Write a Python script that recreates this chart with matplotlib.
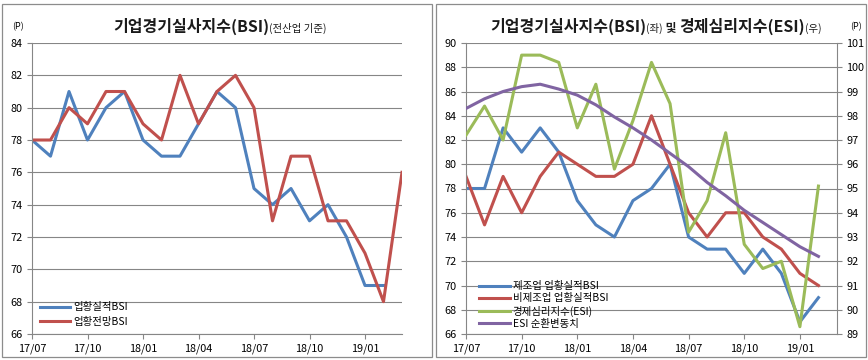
import matplotlib
matplotlib.use('Agg')
import matplotlib.pyplot as plt
import numpy as np
from matplotlib.patches import Rectangle

plt.rcParams['font.family'] = ['Noto Sans CJK KR', 'DejaVu Sans']

# ---------------- data ----------------
months = ['17/07', '17/08', '17/09', '17/10', '17/11', '17/12',
          '18/01', '18/02', '18/03', '18/04', '18/05', '18/06',
          '18/07', '18/08', '18/09', '18/10', '18/11', '18/12',
          '19/01', '19/02', '19/03']

# left chart: 전산업 BSI
bsi_actual = [78, 77, 81, 78, 80, 81, 78, 77, 77, 79, 81, 80,
              75, 74, 75, 73, 74, 72, 69, 69, np.nan]
bsi_outlook = [78, 78, 80, 79, 81, 81, 79, 78, 82, 79, 81, 82,
               80, 73, 77, 77, 73, 73, 71, 68, 76]

# right chart
mfg_bsi = [78, 78, 83, 81, 83, 81, 77, 75, 74, 77, 78, 80,
           74, 73, 73, 71, 73, 71, 67, 69]
nonmfg_bsi = [79, 75, 79, 76, 79, 81, 80, 79, 79, 80, 84, 80,
              76, 74, 76, 76, 74, 73, 71, 70]
esi = [97.2, 98.4, 97.0, 100.5, 100.5, 100.2, 97.5, 99.3, 95.8, 97.8, 100.2, 98.5,
       93.2, 94.5, 97.3, 92.7, 91.7, 92.0, 89.3, 95.1]
esi_cycle = [98.3, 98.7, 99.0, 99.2, 99.3, 99.1, 98.85, 98.45, 97.95, 97.5, 97.0, 96.45,
             95.9, 95.25, 94.7, 94.1, 93.6, 93.1, 92.6, 92.2]

left_labels = ['업황실적BSI', '업황전망BSI']
right_labels = ['제조업 업황실적BSI', '비제조업 업황실적BSI', '경제심리지수(ESI)', 'ESI 순환변동치']

C_BLUE = '#4F81BD'
C_RED = '#C0504D'
C_GREEN = '#9BBB59'
C_PURPLE = '#8064A2'
GRID = '#868686'
FRAME = '#8c8c8c'

W, H = 868, 360
fig = plt.figure(figsize=(W / 100, H / 100), dpi=100)
fig.patch.set_facecolor('white')


def rect(x0, y0, x1, y1):
    return [x0 / W, 1 - y1 / H, (x1 - x0) / W, (y1 - y0) / H]


# chart frames
for x0, x1 in [(2, 432), (436, 866)]:
    fig.add_artist(Rectangle((x0 / W, 1 - 357 / H), (x1 - x0) / W, (357 - 4) / H,
                             transform=fig.transFigure, fill=False, ec=FRAME, lw=0.9))

LW = 2.2
TICK_FS = 7.8


def style_axis(ax):
    for s in ['top', 'right']:
        ax.spines[s].set_visible(False)
    for s in ['left', 'bottom']:
        ax.spines[s].set_color(GRID)
        ax.spines[s].set_linewidth(0.8)
    ax.grid(axis='y', color=GRID, lw=0.8)
    ax.set_axisbelow(True)
    ax.tick_params(axis='both', direction='out', length=3.5, width=0.8, color=GRID,
                   labelsize=TICK_FS, pad=3)
    ax.set_xlim(0, len(months) - 1)
    xt = list(range(0, len(months), 3))
    ax.set_xticks(xt)
    ax.set_xticklabels([months[i] for i in xt])
    ax.set_facecolor('none')


x_all = np.arange(len(months))

# ---------------- left chart ----------------
axL = fig.add_axes(rect(32, 43, 402, 334))
style_axis(axL)
axL.set_ylim(66, 84)
axL.set_yticks(range(66, 85, 2))
axL.plot(x_all, bsi_actual, color=C_BLUE, lw=LW, label=left_labels[0])
axL.plot(x_all, bsi_outlook, color=C_RED, lw=LW, label=left_labels[1])
legL = axL.legend(loc='lower left', bbox_to_anchor=((36 - 32) / 370, 0.01),
                  frameon=False, fontsize=7.5, handlelength=2.9, handletextpad=0.3,
                  labelspacing=0.45, borderaxespad=0.2, borderpad=0.2)

# ---------------- right chart ----------------
axR = fig.add_axes(rect(466, 43, 837, 334))
style_axis(axR)
axR.set_ylim(66, 90)
axR.set_yticks(range(66, 91, 2))
xr = np.arange(len(mfg_bsi))
l1, = axR.plot(xr, mfg_bsi, color=C_BLUE, lw=LW)
l2, = axR.plot(xr, nonmfg_bsi, color=C_RED, lw=LW)

axR2 = axR.twinx()
axR2.set_ylim(89, 101)
axR2.set_yticks(range(89, 102, 1))
for s in ['top', 'left', 'bottom']:
    axR2.spines[s].set_visible(False)
axR2.spines['right'].set_color(GRID)
axR2.spines['right'].set_linewidth(0.8)
axR2.tick_params(axis='y', direction='out', length=3.5, width=0.8, color=GRID,
                 labelsize=TICK_FS, pad=3)
l3, = axR2.plot(xr, esi, color=C_GREEN, lw=LW)
l4, = axR2.plot(xr, esi_cycle, color=C_PURPLE, lw=LW)
axR2.set_xlim(0, len(months) - 1)

legR = axR2.legend([l1, l2, l3, l4], right_labels, loc='lower left',
                   bbox_to_anchor=((474 - 466) / 371, 0.0),
                   frameon=False, fontsize=7.5, handlelength=3.0, handletextpad=0.2,
                   labelspacing=0.2, borderaxespad=0.3, borderpad=0.2)

# ---------------- titles ----------------
fig.canvas.draw()
renderer = fig.canvas.get_renderer()


def chain(pieces, x, y):
    cur = x
    for s, fs, fw in pieces:
        t = fig.text(cur / W, 1 - y / H, s, fontsize=fs, fontweight=fw,
                     ha='left', va='baseline', color='#1a1a1a')
        bb = t.get_window_extent(renderer)
        cur = bb.x1


BIG = 11.5
SMALL = 7.5
chain([('기업경기실사지수(BSI)', BIG, 'bold'), ('(전산업 기준)', SMALL, 'normal')], 113, 32)
chain([('기업경기실사지수(BSI)', BIG, 'bold'), ('(좌)', SMALL, 'normal'),
       (' 및 ', 8.5, 'bold'), ('경제심리지수(ESI)', BIG, 'bold'), ('(우)', SMALL, 'normal')], 490, 32)

fig.text(12 / W, 1 - 29 / H, '(P)', fontsize=6.5, ha='left', va='baseline')
fig.text(850 / W, 1 - 29 / H, '(P)', fontsize=6.5, ha='left', va='baseline')

fig.savefig('out.png', dpi=100)
